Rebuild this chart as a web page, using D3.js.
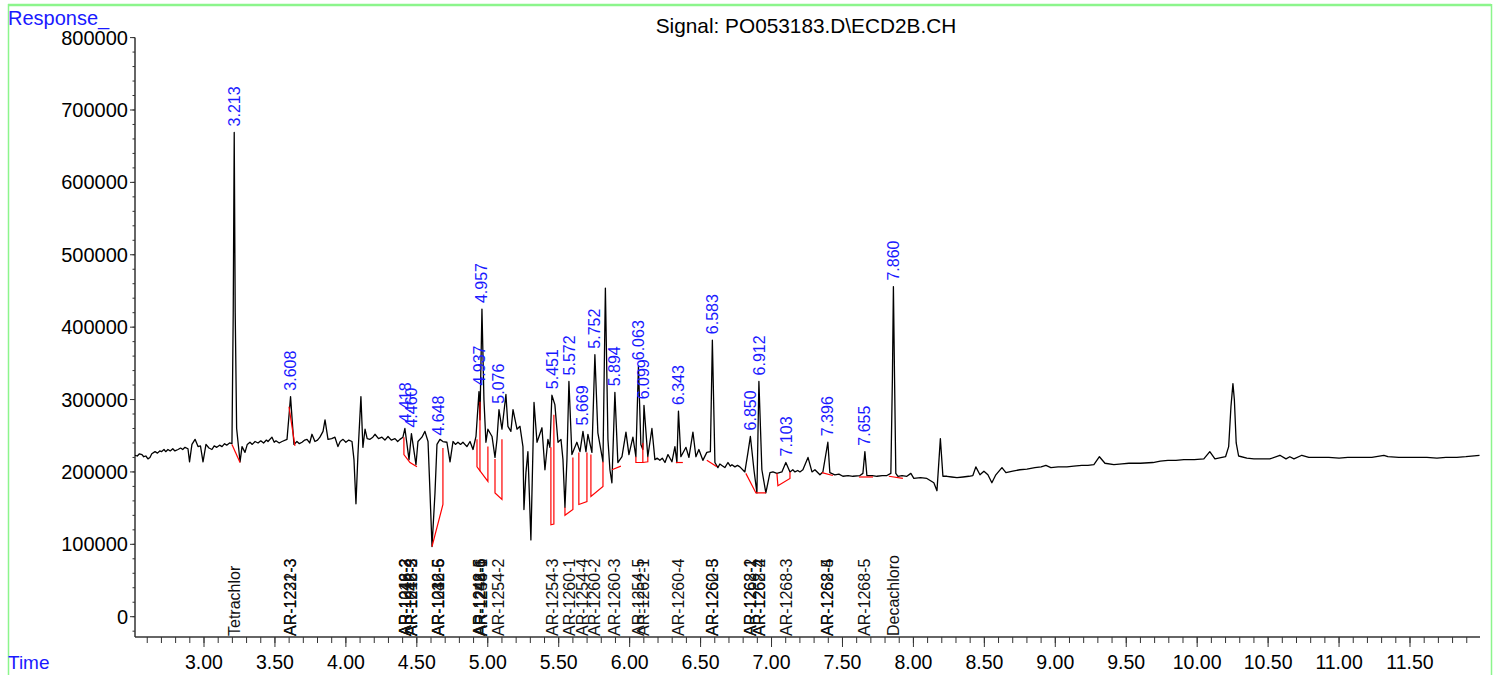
<!DOCTYPE html>
<html>
<head>
<meta charset="utf-8">
<script src="https://cdn.jsdelivr.net/npm/d3@7"></script>
<style>
  body { margin: 0; background: #fff; }
  svg { display: block; font-family: "Liberation Sans", Arial, sans-serif; }
</style>
</head>
<body>
<script>
// signal trace: [time (min), response (thousands)]
var trace = [
  [2.514,223],[2.530,222],[2.545,225],[2.563,224],[2.575,221],[2.590,222],[2.605,218],[2.619,220],[2.632,225],[2.655,228],
  [2.672,226],[2.688,229],[2.700,228],[2.718,231],[2.730,228],[2.746,231],[2.762,229],[2.780,232],[2.795,229],[2.817,231],
  [2.835,233],[2.850,231],[2.866,234],[2.887,232],[2.898,214],[2.915,238],[2.937,245],[2.958,235],[2.975,236],[2.993,214],
  [3.014,238],[3.035,233],[3.056,231],[3.072,236],[3.090,234],[3.110,237],[3.127,235],[3.145,239],[3.160,237],[3.180,240],
  [3.197,239],[3.206,420],[3.213,669],[3.220,420],[3.230,260],[3.254,214],[3.268,235],[3.289,227],[3.305,238],[3.324,241],
  [3.340,238],[3.360,242],[3.381,240],[3.400,243],[3.420,240],[3.440,244],[3.451,242],[3.479,248],[3.495,241],[3.507,243],
  [3.530,240],[3.550,242],[3.585,245],[3.600,280],[3.610,304],[3.622,270],[3.634,238],[3.655,242],[3.672,239],[3.691,241],
  [3.710,244],[3.726,245],[3.745,240],[3.761,252],[3.782,242],[3.800,244],[3.817,248],[3.839,256],[3.853,272],[3.874,245],
  [3.900,246],[3.923,248],[3.944,235],[3.960,242],[3.980,245],[4.000,241],[4.020,244],[4.043,242],[4.057,217],[4.071,156],
  [4.085,224],[4.106,304],[4.120,234],[4.135,259],[4.150,246],[4.170,245],[4.190,248],[4.205,252],[4.230,246],[4.254,248],
  [4.275,244],[4.297,249],[4.320,244],[4.346,246],[4.365,242],[4.381,245],[4.402,248],[4.416,260],[4.445,217],[4.462,253],
  [4.494,210],[4.508,242],[4.536,248],[4.557,256],[4.579,242],[4.593,171],[4.607,97],[4.628,171],[4.642,238],[4.663,245],
  [4.684,242],[4.712,241],[4.734,214],[4.755,242],[4.772,238],[4.790,241],[4.808,238],[4.825,241],[4.853,235],[4.875,242],
  [4.896,231],[4.917,249],[4.938,311],[4.945,272],[4.959,425],[4.973,300],[4.987,241],[5.001,259],[5.030,249],[5.051,220],
  [5.065,245],[5.079,286],[5.100,259],[5.128,307],[5.142,263],[5.163,256],[5.178,286],[5.206,259],[5.227,263],[5.248,235],
  [5.255,148],[5.269,199],[5.283,228],[5.304,106],[5.326,296],[5.347,241],[5.361,249],[5.382,261],[5.403,203],[5.424,245],
  [5.438,234],[5.452,306],[5.473,293],[5.495,241],[5.516,245],[5.530,217],[5.544,151],[5.558,217],[5.572,325],[5.593,224],
  [5.628,241],[5.650,228],[5.671,256],[5.692,228],[5.706,252],[5.734,227],[5.755,362],[5.776,254],[5.812,214],[5.829,454],
  [5.847,245],[5.861,203],[5.875,185],[5.896,310],[5.917,213],[5.946,221],[5.974,255],[5.995,224],[6.023,248],[6.044,221],
  [6.062,346],[6.079,238],[6.093,231],[6.101,292],[6.128,221],[6.157,260],[6.178,217],[6.195,219],[6.213,216],[6.230,219],
  [6.249,213],[6.270,224],[6.298,214],[6.319,235],[6.333,213],[6.344,284],[6.361,221],[6.397,234],[6.418,220],[6.446,255],
  [6.467,221],[6.488,231],[6.516,216],[6.544,227],[6.569,228],[6.583,382],[6.601,213],[6.622,206],[6.636,211],[6.650,209],
  [6.671,206],[6.693,213],[6.710,208],[6.721,210],[6.742,207],[6.760,209],[6.777,207],[6.812,200],[6.834,227],[6.851,249],
  [6.876,203],[6.897,171],[6.911,325],[6.932,203],[6.960,171],[6.989,199],[7.010,200],[7.038,198],[7.073,200],[7.101,213],
  [7.130,200],[7.150,203],[7.165,200],[7.185,202],[7.200,200],[7.221,203],[7.257,220],[7.285,200],[7.306,203],[7.341,196],
  [7.362,200],[7.397,241],[7.411,199],[7.446,196],[7.475,197],[7.503,194],[7.540,195],[7.574,194],[7.623,195],[7.644,198],
  [7.658,228],[7.672,195],[7.710,195],[7.743,194],[7.780,195],[7.813,195],[7.841,198],[7.852,330],[7.859,456],[7.867,330],
  [7.876,198],[7.891,194],[7.920,195],[7.954,194],[7.982,198],[8.003,191],[8.050,192],[8.095,191],[8.144,185],[8.166,174],
  [8.190,246],[8.208,194],[8.236,194],[8.270,193],[8.307,192],[8.350,193],[8.391,194],[8.419,195],[8.440,207],[8.469,196],
  [8.497,201],[8.525,196],[8.553,185],[8.581,196],[8.624,206],[8.652,199],[8.700,201],[8.750,203],[8.800,204],[8.856,206],
  [8.900,207],[8.934,209],[8.969,206],[9.020,207],[9.082,207],[9.130,208],[9.187,209],[9.230,209],[9.272,210],[9.311,221],
  [9.350,212],[9.413,210],[9.470,211],[9.519,212],[9.600,212],[9.688,213],[9.740,215],[9.794,216],[9.850,216],[9.906,217],
  [9.980,217],[10.047,218],[10.089,228],[10.125,218],[10.200,221],[10.222,235],[10.238,290],[10.252,322],[10.262,300],[10.275,240],
  [10.292,222],[10.350,219],[10.400,218],[10.460,218],[10.512,218],[10.583,223],[10.626,218],[10.653,221],[10.682,218],[10.738,223],
  [10.787,220],[10.860,220],[10.928,220],[11.000,219],[11.062,220],[11.150,220],[11.231,220],[11.316,223],[11.344,221],[11.421,220],
  [11.520,220],[11.619,220],[11.690,219],[11.753,220],[11.830,220],[11.894,221],[11.990,223]
];

// integration baselines (red), each a polyline of [time, response (thousands)]
var baselines = [
  [[3.197,238],[3.254,213]],
  [[3.599,290],[3.641,236]],
  [[4.409,248],[4.409,224],[4.452,213],[4.501,207]],
  [[4.607,97],[4.684,155],[4.684,233]],
  [[4.924,245],[4.924,207],[5.001,187],[5.001,235]],
  [[4.945,297],[4.945,201]],
  [[5.051,218],[5.051,171],[5.100,162],[5.100,245]],
  [[5.445,234],[5.445,127],[5.466,128],[5.466,279]],
  [[5.544,151],[5.544,140],[5.600,148],[5.600,220]],
  [[5.642,227],[5.642,155],[5.699,159],[5.699,227]],
  [[5.727,224],[5.727,166],[5.812,180],[5.812,214]],
  [[5.875,203],[5.938,208]],
  [[6.044,221],[6.044,213],[6.093,213],[6.128,214],[6.128,221]],
  [[6.093,213],[6.093,240]],
  [[6.326,213],[6.375,213]],
  [[6.544,216],[6.615,207]],
  [[6.819,198],[6.890,171],[6.960,171]],
  [[7.038,198],[7.045,181],[7.130,191],[7.130,200]],
  [[7.355,199],[7.432,195]],
  [[7.616,193],[7.715,193]],
  [[7.827,194],[7.926,191]]
];

// peak retention times and apex response (thousands)
var peakTimes = [3.213,3.608,4.418,4.460,4.648,4.937,4.957,5.076,5.451,5.572,5.669,5.752,5.894,6.063,6.099,6.343,6.583,6.850,6.912,7.103,7.396,7.655,7.860];
var peakApex  = [669,304,260,253,242,311,425,286,306,325,256,362,310,346,292,284,382,249,325,213,241,228,456];

// compound names placed at retention times
var compoundTimes = [3.213,3.608,3.608,4.418,4.418,4.418,4.460,4.460,4.460,4.648,4.648,4.648,4.937,4.937,4.957,4.957,5.076,
  5.451,5.572,5.669,5.752,5.894,6.063,6.099,6.343,6.583,6.583,6.850,6.850,6.912,6.912,7.103,7.396,7.396,7.655,7.860];
var compoundNames = ["Tetrachlor","AR-1221-3","AR-1232-3","AR-1016-2","AR-1242-2","AR-1248-3","AR-1016-3","AR-1242-3","AR-1248-2",
  "AR-1016-5","AR-1232-6","AR-1242-5","AR-1242-6","AR-1248-5","AR-1254-1","AR-1248-6","AR-1254-2",
  "AR-1254-3","AR-1260-1","AR-1254-4","AR-1260-2","AR-1260-3","AR-1254-5","AR-1262-1","AR-1260-4","AR-1260-5","AR-1262-3",
  "AR-1268-1","AR-1262-2","AR-1268-2","AR-1262-4","AR-1268-3","AR-1262-5","AR-1268-4","AR-1268-5","Decachloro"];

var xMajor = [3.0,3.5,4.0,4.5,5.0,5.5,6.0,6.5,7.0,7.5,8.0,8.5,9.0,9.5,10.0,10.5,11.0,11.5];
var yMajor = [0,100000,200000,300000,400000,500000,600000,700000,800000];

var W = 1498, H = 675;
var axisY = 637, axisX = 135;

var svg = d3.select("body").append("svg")
  .attr("width", W)
  .attr("height", H);

// frame
svg.append("line").attr("x1", 8).attr("x2", 1491).attr("y1", 5).attr("y2", 5)
  .attr("stroke", "#8cf58c").attr("stroke-width", 2.5);
svg.append("line").attr("x1", 8.5).attr("x2", 8.5).attr("y1", 4).attr("y2", H)
  .attr("stroke", "#8cf58c").attr("stroke-width", 1.5);
svg.append("line").attr("x1", 1491.5).attr("x2", 1491.5).attr("y1", 4).attr("y2", H)
  .attr("stroke", "#8cf58c").attr("stroke-width", 1.5);

var x = d3.scaleLinear().domain([3, 11.5]).range([204, 1410]);
var y = d3.scaleLinear().domain([0, 800000]).range([616.7, 37.6]);

// x axis
var xAxis = svg.append("g").attr("transform", "translate(0," + axisY + ")");
xAxis.append("line").attr("x1", axisX).attr("x2", 1480).attr("stroke", "#333").attr("stroke-width", 1.5);
xAxis.selectAll(".minor").data(d3.range(26, 120).map(function (d) { return d / 10; }))
  .enter().append("line")
  .attr("x1", function (d) { return x(d); }).attr("x2", function (d) { return x(d); })
  .attr("y1", 0).attr("y2", 6).attr("stroke", "#333");
xAxis.selectAll(".major").data(xMajor)
  .enter().append("line")
  .attr("x1", function (d) { return x(d); }).attr("x2", function (d) { return x(d); })
  .attr("y1", 0).attr("y2", 10).attr("stroke", "#333");
xAxis.selectAll("text").data(xMajor)
  .enter().append("text")
  .attr("x", function (d) { return x(d); })
  .attr("y", 32)
  .attr("text-anchor", "middle")
  .style("font-size", "19.5px")
  .text(function (d) { return d3.format(".2f")(d); });

// y axis
var yAxis = svg.append("g").attr("transform", "translate(" + axisX + ",0)");
yAxis.append("line").attr("y1", y(800000)).attr("y2", axisY).attr("stroke", "#333").attr("stroke-width", 1.5);
yAxis.selectAll(".minor").data(d3.range(-1, 41).map(function (d) { return d * 20000; }))
  .enter().append("line")
  .attr("y1", function (d) { return y(d); }).attr("y2", function (d) { return y(d); })
  .attr("x1", 0).attr("x2", -2.5).attr("stroke", "#333");
yAxis.selectAll(".major").data(yMajor)
  .enter().append("line")
  .attr("y1", function (d) { return y(d); }).attr("y2", function (d) { return y(d); })
  .attr("x1", 0).attr("x2", -5).attr("stroke", "#333");
yAxis.selectAll("text").data(yMajor)
  .enter().append("text")
  .attr("x", -7)
  .attr("y", function (d) { return y(d) + 7; })
  .attr("text-anchor", "end")
  .style("font-size", "20px")
  .text(function (d) { return d; });

// titles
svg.append("text").attr("x", 8).attr("y", 25).attr("fill", "#1a1aff")
  .style("font-size", "20px").text("Response_");
svg.append("text").attr("x", 8).attr("y", 669).attr("fill", "#1a1aff")
  .style("font-size", "19px").text("Time");
svg.append("text").attr("x", 806).attr("y", 33).attr("text-anchor", "middle")
  .style("font-size", "20.8px").text("Signal: PO053183.D\\ECD2B.CH");

// trace
var line = d3.line()
  .x(function (d) { return x(d[0]); })
  .y(function (d) { return y(d[1] * 1000); });

svg.append("path").datum(trace)
  .attr("d", line)
  .attr("fill", "none")
  .attr("stroke", "#000")
  .attr("stroke-width", 1.3)
  .attr("stroke-linejoin", "round");

svg.selectAll(".base").data(baselines)
  .enter().append("path")
  .attr("d", line)
  .attr("fill", "none")
  .attr("stroke", "#ff0000")
  .attr("stroke-width", 1.2);

// peak time labels
svg.selectAll(".rt").data(peakTimes)
  .enter().append("text")
  .attr("transform", function (d, i) {
    return "translate(" + x(d) + "," + (y(peakApex[i] * 1000) - 6) + ") rotate(-90)";
  })
  .attr("dy", "0.36em")
  .attr("fill", "#1a1aff")
  .style("font-size", "16px")
  .text(function (d) { return d3.format(".3f")(d); });

// compound names
svg.selectAll(".cmp").data(compoundNames)
  .enter().append("text")
  .attr("transform", function (d, i) {
    return "translate(" + x(compoundTimes[i]) + "," + (axisY - 1) + ") rotate(-90)";
  })
  .attr("dy", "0.36em")
  .attr("fill", "#111")
  .style("font-size", "16px")
  .text(function (d) { return d; });
</script>
</body>
</html>
